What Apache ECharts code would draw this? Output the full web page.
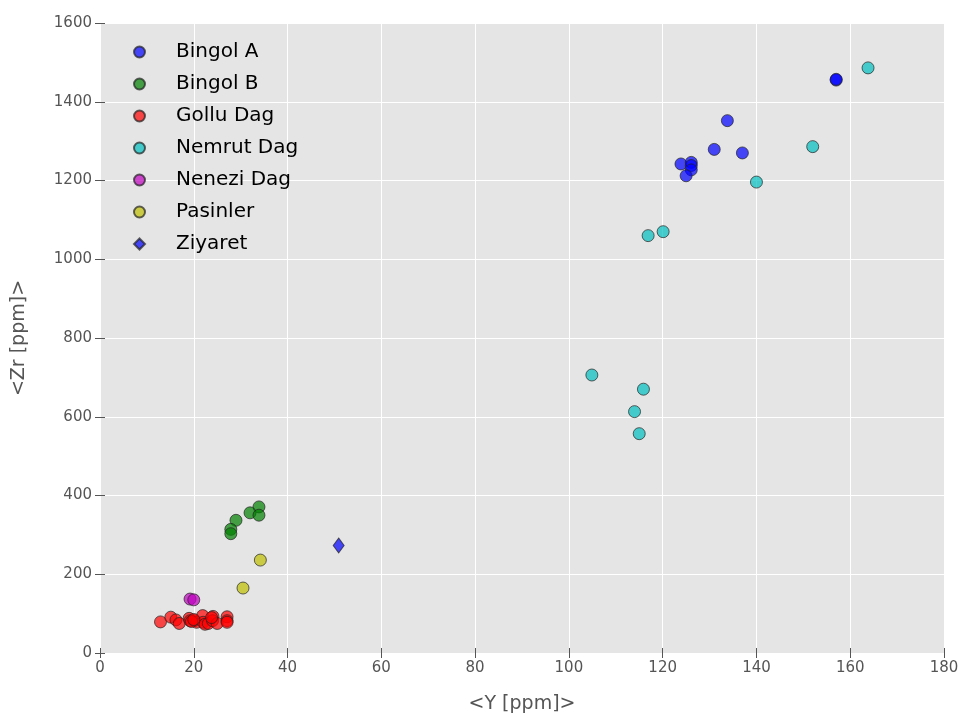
<!DOCTYPE html>
<html>
<head>
<meta charset="utf-8">
<script src="https://cdn.jsdelivr.net/npm/echarts@6/dist/echarts.min.js"></script>
<style>html,body{margin:0;padding:0;background:#fff}#c{width:961px;height:713px}</style>
</head>
<body>
<div id="c"></div>
<script>
// Data: [Y ppm, Zr ppm]
const bingolA = [[123.9,1242],[126.1,1246],[126.1,1238],[126.1,1227],[125.0,1212],[131.0,1279],[137.0,1270],[133.8,1352],[157.0,1455],[157.0,1457]];
const bingolB = [[33.9,371],[32.0,356],[33.9,350],[29.0,337],[27.9,314],[27.9,303]];
const golluDag = [[12.9,79],[15.1,91],[16.2,84],[16.9,75],[19.0,88],[19.2,82],[20.1,82],[20.6,78],[21.9,95],[22.0,78],[22.4,73],[23.1,75],[24.1,93],[24.0,82],[25.0,75],[27.1,92],[27.1,82],[27.1,78],[19.5,80],[20.0,85],[23.8,90]];
const nemrutDag = [[163.8,1486],[152.0,1286],[140.0,1196],[116.9,1060],[120.1,1070],[104.9,706],[115.9,670],[114.0,613],[115.0,557]];
const neneziDag = [[19.2,137],[20.0,135]];
const pasinler = [[34.2,236],[30.5,165]];
const ziyaret = [[50.9,273]];

const seriesNames = ['Bingol A','Bingol B','Gollu Dag','Nemrut Dag','Nenezi Dag','Pasinler','Ziyaret'];
const seriesData = [bingolA,bingolB,golluDag,nemrutDag,neneziDag,pasinler,ziyaret];
const colors = ['#0000ff','#008000','#ff0000','#00bfbf','#bf00bf','#bfbf00','#0000ff'];
const symbols = ['circle','circle','circle','circle','circle','circle','diamond'];

const xTicks = {min:0,max:180,interval:20};
const yTicks = {min:0,max:1600,interval:200};

const chart = echarts.init(document.getElementById('c'));
const font = 'DejaVu Sans, sans-serif';
const tickStyle = {show:true,inside:false,length:5,lineStyle:{color:'#555',width:1}};
chart.setOption({
  backgroundColor:'#fff',
  animation:false,
  grid:{left:100,top:23,right:17,bottom:60,show:true,backgroundColor:'#e5e5e5',borderWidth:0,outerBoundsMode:'none',containLabel:false},
  legend:{
    orient:'vertical',left:128,top:37,itemGap:12.0,itemWidth:11,itemHeight:11,
    data:seriesNames.map((n,i)=>({name:n,icon:symbols[i]})),
    textStyle:{fontFamily:font,fontSize:20,color:'#000',padding:[0,0,0,26]}
  },
  xAxis:[{
    type:'value',min:xTicks.min,max:xTicks.max,interval:xTicks.interval,
    name:'<Y [ppm]>',nameLocation:'middle',nameGap:42,
    nameTextStyle:{fontFamily:font,fontSize:19,color:'#555'},
    axisLine:{show:false},axisTick:tickStyle,
    axisLabel:{fontFamily:font,fontSize:15,color:'#555',margin:8},
    splitLine:{show:true,lineStyle:{color:'#fff',width:1}}
  },{
    type:'value',position:'top',min:xTicks.min,max:xTicks.max,interval:xTicks.interval,
    axisLine:{show:false},axisTick:tickStyle,axisLabel:{show:false},splitLine:{show:false}
  }],
  yAxis:[{
    type:'value',min:yTicks.min,max:yTicks.max,interval:yTicks.interval,
    name:'<Zr [ppm]>',nameLocation:'middle',nameGap:71,nameRotate:90,
    nameTextStyle:{fontFamily:font,fontSize:19,color:'#555'},
    axisLine:{show:false},axisTick:tickStyle,
    axisLabel:{fontFamily:font,fontSize:15,color:'#555',margin:8,formatter:v=>String(v)},
    splitLine:{show:true,lineStyle:{color:'#fff',width:1}}
  },{
    type:'value',position:'right',min:yTicks.min,max:yTicks.max,interval:yTicks.interval,
    axisLine:{show:false},axisTick:tickStyle,axisLabel:{show:false},splitLine:{show:false}
  }],
  series:seriesNames.map((n,i)=>({
    name:n,type:'scatter',data:seriesData[i],symbol:symbols[i],
    symbolSize:symbols[i]==='diamond'?[11,15]:12,
    itemStyle:{color:colors[i],opacity:0.7,borderColor:'#222',borderWidth:1}
  }))
});
</script>
</body>
</html>
